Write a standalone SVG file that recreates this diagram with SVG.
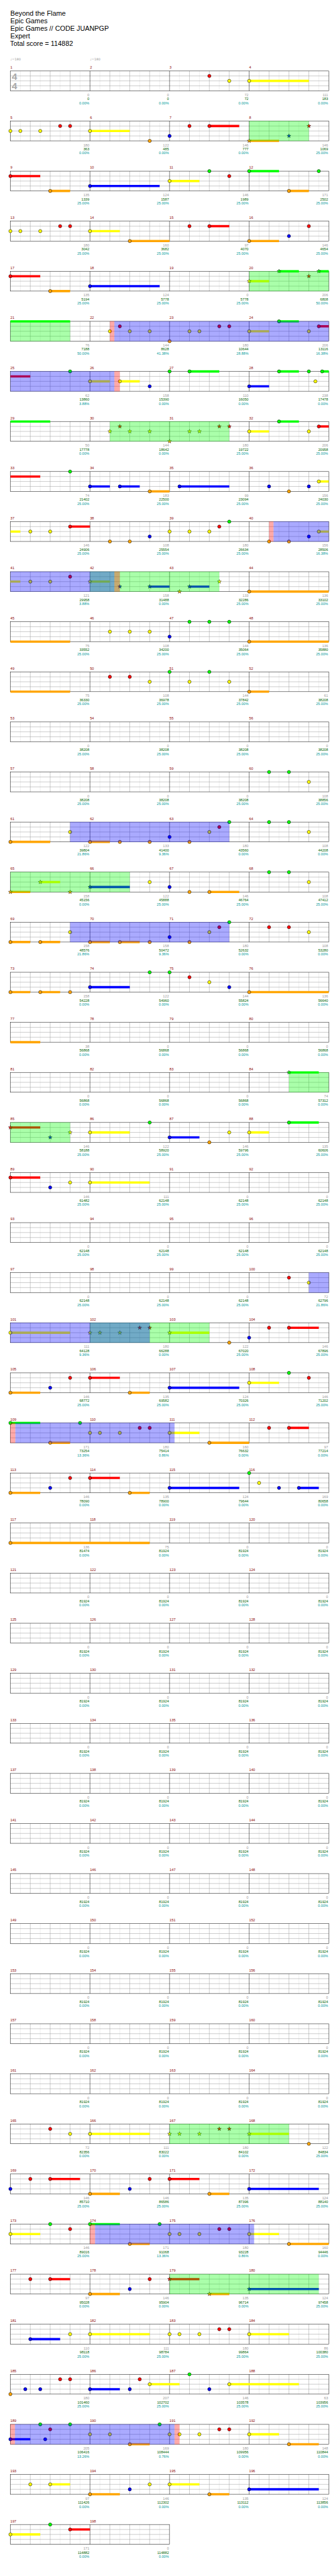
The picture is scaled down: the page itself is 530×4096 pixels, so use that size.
<svg xmlns="http://www.w3.org/2000/svg" width="530" height="4096" viewBox="0 0 530 4096">
<style>
text{font-family:"Liberation Sans",Arial,sans-serif;font-size:11px}
.t{font-size:21px;fill:#000}
.tp{font-family:"DejaVu Sans",sans-serif;font-size:10px;fill:#999}
.ts{font-size:30px;font-weight:bold;fill:#aaa}
.m{fill:#8b0000}
.a{fill:#999;text-anchor:end}
.b{fill:#006400;text-anchor:end}
.c{fill:#009a9a;text-anchor:end}
.lt,.gr,.bk{fill:none;stroke-width:1}
.lt{stroke:#e0e0e0}
.gr{stroke:#999}
.bk{stroke:#000}
.sG,.sR,.sY,.sB,.sO{fill:none;stroke-width:7}
.sG{stroke:#0f0}.sR{stroke:#f00}.sY{stroke:#ff0}.sB{stroke:#00f}.sO{stroke:#ffa500}
.vg{fill:#0f0;fill-opacity:.333}
.vb{fill:#00f;fill-opacity:.333}
.vp{fill:#f00;fill-opacity:.333}
</style>
<defs>
<g id="H">
<path class="lt" d="M30.6 0V61M91.9 0V61M153.1 0V61M214.4 0V61M275.6 0V61M336.9 0V61M398.1 0V61M459.4 0V61"/>
<path class="gr" d="M61.25 0V61M122.5 0V61M183.75 0V61M306.25 0V61M367.5 0V61M428.75 0V61M0 15.25H490M0 30.5H490M0 45.75H490"/>
<path class="bk" d="M245 0V61"/>
</g>
<g id="S4"><use href="#H"/><use href="#H" x="490"/><path class="bk" d="M490 0V61"/><rect class="bk" width="980" height="61"/></g>
<g id="S2"><use href="#H"/><rect class="bk" width="490" height="61"/></g>
<circle id="G" r="5" fill="#0f0" stroke="#000"/>
<circle id="R" cy="15.25" r="5" fill="#f00" stroke="#000"/>
<circle id="Y" cy="30.5" r="5" fill="#ff0" stroke="#000"/>
<circle id="B" cy="45.75" r="5" fill="#00f" stroke="#000"/>
<circle id="O" cy="61" r="5" fill="#ffa500" stroke="#000"/>
<path id="st" d="M0-6.5L1.53-2.1 6.18-2.01 2.47.8 3.82 5.26 0 2.6-3.82 5.26-2.47.8-6.18-2.01-1.53-2.1Z" stroke="#000" stroke-width=".8"/>
<g id="xG" fill="#0f0"><use href="#st"/></g>
<g id="xR" fill="#f00"><use href="#st" y="15.25"/></g>
<g id="xY" fill="#ff0"><use href="#st" y="30.5"/></g>
<g id="xB" fill="#00f"><use href="#st" y="45.75"/></g>
<g id="xO" fill="#ffa500"><use href="#st" y="61"/></g>
<text id="a0" class="a" y="77.5"><tspan x="243">0</tspan><tspan x="488">0</tspan><tspan x="733">0</tspan><tspan x="978">0</tspan></text>
<text id="c0" class="c" y="102.5"><tspan x="243">0.00%</tspan><tspan x="488">0.00%</tspan><tspan x="733">0.00%</tspan><tspan x="978">0.00%</tspan></text>
<text id="c25" class="c" y="102.5"><tspan x="243">25.00%</tspan><tspan x="488">25.00%</tspan><tspan x="733">25.00%</tspan><tspan x="978">25.00%</tspan></text>
<g id="E"><use href="#S4"/><use href="#a0"/><text class="b" y="90"><tspan x="243">81924</tspan><tspan x="488">81924</tspan><tspan x="733">81924</tspan><tspan x="978">81924</tspan></text><use href="#c0"/></g>
</defs>
<rect width="530" height="4096" fill="#fff"/>
<g transform="scale(0.517)">
<g id="title">
<text class="t" x="32" y="49">Beyond the Flame</text>
<text class="t" x="32" y="72">Epic Games</text>
<text class="t" x="32" y="95">Epic Games // CODE JUANPGP</text>
<text class="t" x="32" y="118">Expert</text>
<text class="t" x="31" y="141">Total score = 114882</text>
<text class="tp" x="32" y="186">♩=180</text>
<text class="tp" x="277" y="186">♩=180</text>
</g>

<g id="row-0" transform="translate(32 218.3)">
<use href="#S4"/>
<text class="ts" x="4.5" y="27">4</text><text class="ts" x="4.5" y="57">4</text>
<path class="sY" d="M735 30.5H918.8"/>
<use href="#R" x="612.5"/><use href="#Y" x="673.8"/><use href="#Y" x="735"/>
<text class="m" y="-7"><tspan x="0">1</tspan><tspan x="245">2</tspan><tspan x="490">3</tspan><tspan x="735">4</tspan></text>
<text class="a" y="77.5"><tspan x="243">0</tspan><tspan x="488">0</tspan><tspan x="733">72</tspan><tspan x="978">111</tspan></text>
<text class="b" y="90"><tspan x="243">0</tspan><tspan x="488">0</tspan><tspan x="733">72</tspan><tspan x="978">183</tspan></text>
<use href="#c0"/>
</g>

<g id="row-1" transform="translate(32 372.3)">
<use href="#S4"/>
<path class="sY" d="M245 30.5H367.5"/><path class="sR" d="M612.5 15.25H704.4"/><path class="sO" d="M735 61H826.9"/>
<use href="#Y" x="0"/><use href="#Y" x="30.6"/><use href="#Y" x="91.9"/><use href="#R" x="153.1"/><use href="#R" x="183.8"/><use href="#Y" x="245"/><use href="#O" x="428.8"/><use href="#B" x="490"/><use href="#R" x="551.3"/><use href="#R" x="612.5"/>
<use href="#xO" x="735"/><use href="#xB" x="857.5"/><use href="#xR" x="918.8"/>
<rect class="vg" x="735" y="-.5" width="183.8" height="62"/>
<text class="m" y="-7"><tspan x="0">5</tspan><tspan x="245">6</tspan><tspan x="490">7</tspan><tspan x="735">8</tspan></text>
<text class="a" y="77.5"><tspan x="243">180</tspan><tspan x="488">122</tspan><tspan x="733">146</tspan><tspan x="978">146</tspan></text>
<text class="b" y="90"><tspan x="243">363</tspan><tspan x="488">485</tspan><tspan x="733">777</tspan><tspan x="978">1069</tspan></text>
<text class="c" y="102.5"><tspan x="243">0.00%</tspan><tspan x="488">0.00%</tspan><tspan x="733">0.00%</tspan><tspan x="978">25.00%</tspan></text>
</g>

<g id="row-2" transform="translate(32 526.3)">
<use href="#S4"/>
<path class="sR" d="M0 15.25H91.9"/><path class="sO" d="M122.5 61H183.8M857.5 61H918.8"/><path class="sB" d="M245 45.75H459.4"/><path class="sY" d="M490 30.5H581.9"/><path class="sG" d="M735 0H826.9"/>
<use href="#R" x="0"/><use href="#O" x="122.5"/><use href="#B" x="245"/><use href="#Y" x="490"/><use href="#G" x="612.5"/><use href="#R" x="673.8"/><use href="#G" x="735"/><use href="#O" x="857.5"/><use href="#G" x="949.4"/>
<text class="m" y="-7"><tspan x="0">9</tspan><tspan x="245">10</tspan><tspan x="490">11</tspan><tspan x="735">12</tspan></text>
<text class="a" y="77.5"><tspan x="243">135</tspan><tspan x="488">124</tspan><tspan x="733">146</tspan><tspan x="978">171</tspan></text>
<text class="b" y="90"><tspan x="243">1339</tspan><tspan x="488">1587</tspan><tspan x="733">1989</tspan><tspan x="978">2502</tspan></text>
<use href="#c25"/>
</g>

<g id="row-3" transform="translate(32 680.3)">
<use href="#S4"/>
<path class="sY" d="M245 30.5H336.9"/><path class="sO" d="M367.5 61H490M735 61H826.9"/><path class="sR" d="M612.5 15.25H673.8"/>
<use href="#Y" x="0"/><use href="#Y" x="30.6"/><use href="#Y" x="91.9"/><use href="#R" x="153.1"/><use href="#R" x="183.8"/><use href="#Y" x="245"/><use href="#O" x="367.5"/><use href="#R" x="551.3"/><use href="#R" x="612.5"/><use href="#O" x="735"/><use href="#B" x="857.5"/><use href="#R" x="918.8"/>
<text class="m" y="-7"><tspan x="0">13</tspan><tspan x="245">14</tspan><tspan x="490">15</tspan><tspan x="735">16</tspan></text>
<text class="a" y="77.5"><tspan x="243">180</tspan><tspan x="488">160</tspan><tspan x="733">97</tspan><tspan x="978">146</tspan></text>
<text class="b" y="90"><tspan x="243">3042</tspan><tspan x="488">3682</tspan><tspan x="733">4070</tspan><tspan x="978">4654</tspan></text>
<use href="#c25"/>
</g>

<g id="row-4" transform="translate(32 834.3)">
<use href="#S4"/>
<path class="sR" d="M0 15.25H91.9"/><path class="sO" d="M122.5 61H183.8"/><path class="sB" d="M245 45.75H459.4"/><path class="sY" d="M735 30.5H796.3"/><path class="sG" d="M826.9 0H888.1M949.4 0H980"/>
<use href="#R" x="0"/><use href="#O" x="122.5"/><use href="#B" x="245"/>
<use href="#xY" x="735"/><use href="#xG" x="826.9"/><use href="#xR" x="918.8"/><use href="#xG" x="949.4"/>
<rect class="vg" x="735" y="-.5" width="245" height="62"/>
<text class="m" y="-7"><tspan x="0">17</tspan><tspan x="245">18</tspan><tspan x="490">19</tspan><tspan x="735">20</tspan></text>
<text class="a" y="77.5"><tspan x="243">135</tspan><tspan x="488">124</tspan><tspan x="733">0</tspan><tspan x="978">206</tspan></text>
<text class="b" y="90"><tspan x="243">5194</tspan><tspan x="488">5778</tspan><tspan x="733">5778</tspan><tspan x="978">6808</tspan></text>
<text class="c" y="102.5"><tspan x="243">25.00%</tspan><tspan x="488">25.00%</tspan><tspan x="733">25.00%</tspan><tspan x="978">50.00%</tspan></text>
</g>

<g id="row-5" transform="translate(32 988.3)">
<use href="#S4"/>
<path class="sG" d="M0 0H183.8M826.9 0H888.1"/><path class="sY" d="M735 30.5H796.3"/><path class="sR" d="M949.4 15.25H980"/>
<use href="#Y" x="306.3"/><use href="#R" x="336.9"/><use href="#Y" x="367.5"/><use href="#Y" x="428.8"/><use href="#O" x="490"/><use href="#Y" x="551.3"/><use href="#Y" x="581.9"/><use href="#R" x="643.1"/><use href="#R" x="673.8"/><use href="#Y" x="735"/><use href="#G" x="826.9"/><use href="#Y" x="918.8"/><use href="#R" x="949.4"/>
<rect class="vg" x="0" y="-.5" width="183.8" height="62"/><rect class="vp" x="306.3" y="-.5" width="13.7" height="62"/><rect class="vb" x="320" y="-.5" width="660" height="62"/>
<text class="m" y="-7"><tspan x="0">21</tspan><tspan x="245">22</tspan><tspan x="490">23</tspan><tspan x="735">24</tspan></text>
<text class="a" y="77.5"><tspan x="243">76</tspan><tspan x="488">144</tspan><tspan x="733">180</tspan><tspan x="978">206</tspan></text>
<text class="b" y="90"><tspan x="243">7188</tspan><tspan x="488">8628</tspan><tspan x="733">10644</tspan><tspan x="978">13116</tspan></text>
<text class="c" y="102.5"><tspan x="243">50.00%</tspan><tspan x="488">41.38%</tspan><tspan x="733">28.88%</tspan><tspan x="978">16.38%</tspan></text>
</g>

<g id="row-6" transform="translate(32 1142.3)">
<use href="#S4"/>
<path class="sR" d="M0 15.25H61.3"/><path class="sY" d="M245 30.5H306.3M336.9 30.5H398.1"/><path class="sG" d="M551.3 0H643.1M826.9 0H888.1M959.7 0H980"/><path class="sB" d="M735 45.75H796.3"/>
<use href="#G" x="183.8"/><use href="#Y" x="245"/><use href="#Y" x="336.9"/><use href="#B" x="428.8"/><use href="#G" x="490"/><use href="#G" x="551.3"/><use href="#B" x="735"/><use href="#G" x="826.9"/><use href="#G" x="918.8"/><use href="#Y" x="939"/><use href="#G" x="959.7"/>
<rect class="vb" x="0" y="-.5" width="320" height="62"/><rect class="vp" x="320" y="-.5" width="16.9" height="62"/>
<text class="m" y="-7"><tspan x="0">25</tspan><tspan x="245">26</tspan><tspan x="490">27</tspan><tspan x="735">28</tspan></text>
<text class="a" y="77.5"><tspan x="243">62</tspan><tspan x="488">158</tspan><tspan x="733">110</tspan><tspan x="978">238</tspan></text>
<text class="b" y="90"><tspan x="243">13860</tspan><tspan x="488">15390</tspan><tspan x="733">16050</tspan><tspan x="978">17478</tspan></text>
<text class="c" y="102.5"><tspan x="243">3.88%</tspan><tspan x="488">0.00%</tspan><tspan x="733">0.00%</tspan><tspan x="978">0.00%</tspan></text>
</g>

<g id="row-7" transform="translate(32 1296.3)">
<use href="#S4"/>
<path class="sG" d="M0 0H122.5M826.9 0H888.1"/><path class="sY" d="M735 30.5H796.3"/><path class="sR" d="M949.4 15.25H980"/>
<use href="#xY" x="306.3"/><use href="#xR" x="336.9"/><use href="#xY" x="367.5"/><use href="#xY" x="428.8"/><use href="#xO" x="490"/><use href="#xY" x="551.3"/><use href="#xY" x="581.9"/><use href="#xR" x="643.1"/><use href="#xR" x="673.8"/>
<use href="#Y" x="735"/><use href="#G" x="826.9"/><use href="#Y" x="918.8"/><use href="#R" x="949.4"/>
<rect class="vg" x="306.3" y="-.5" width="367.5" height="62"/>
<text class="m" y="-7"><tspan x="0">29</tspan><tspan x="245">30</tspan><tspan x="490">31</tspan><tspan x="735">32</tspan></text>
<text class="a" y="77.5"><tspan x="243">50</tspan><tspan x="488">144</tspan><tspan x="733">180</tspan><tspan x="978">206</tspan></text>
<text class="b" y="90"><tspan x="243">17778</tspan><tspan x="488">18642</tspan><tspan x="733">19722</tspan><tspan x="978">20958</tspan></text>
<text class="c" y="102.5"><tspan x="243">0.00%</tspan><tspan x="488">0.00%</tspan><tspan x="733">25.00%</tspan><tspan x="978">25.00%</tspan></text>
</g>

<g id="row-8" transform="translate(32 1450.3)">
<use href="#S4"/>
<path class="sR" d="M0 15.25H91.9"/><path class="sB" d="M245 45.75H306.3M336.9 45.75H398.1M520.6 45.75H673.8"/><path class="sO" d="M428.8 61H490"/><path class="sY" d="M949.4 30.5H980"/>
<use href="#G" x="183.8"/><use href="#B" x="245"/><use href="#B" x="336.9"/><use href="#O" x="428.8"/><use href="#B" x="520.6"/><use href="#B" x="796.3"/><use href="#O" x="857.5"/><use href="#B" x="918.8"/><use href="#Y" x="949.4"/>
<text class="m" y="-7"><tspan x="0">33</tspan><tspan x="245">34</tspan><tspan x="490">35</tspan><tspan x="735">36</tspan></text>
<text class="a" y="77.5"><tspan x="243">74</tspan><tspan x="488">183</tspan><tspan x="733">99</tspan><tspan x="978">156</tspan></text>
<text class="b" y="90"><tspan x="243">21402</tspan><tspan x="488">22500</tspan><tspan x="733">23094</tspan><tspan x="978">24030</tspan></text>
<use href="#c25"/>
</g>

<g id="row-9" transform="translate(32 1604.3)">
<use href="#S4"/>
<path class="sY" d="M0 30.5H30.6M949.4 30.5H980"/><path class="sR" d="M183.8 15.25H245"/>
<use href="#Y" x="61.3"/><use href="#Y" x="122.5"/><use href="#R" x="183.8"/><use href="#O" x="306.3"/><use href="#O" x="367.5"/><use href="#B" x="428.8"/><use href="#Y" x="490"/><use href="#Y" x="551.3"/><use href="#Y" x="612.5"/><use href="#R" x="643.1"/><use href="#G" x="673.8"/><use href="#O" x="796.3"/><use href="#O" x="857.5"/><use href="#B" x="918.8"/><use href="#Y" x="949.4"/>
<rect class="vp" x="796.3" y="-.5" width="13.7" height="62"/><rect class="vb" x="810" y="-.5" width="170" height="62"/>
<text class="m" y="-7"><tspan x="0">37</tspan><tspan x="245">38</tspan><tspan x="490">39</tspan><tspan x="735">40</tspan></text>
<text class="a" y="77.5"><tspan x="243">146</tspan><tspan x="488">108</tspan><tspan x="733">180</tspan><tspan x="978">156</tspan></text>
<text class="b" y="90"><tspan x="243">24906</tspan><tspan x="488">25554</tspan><tspan x="733">26634</tspan><tspan x="978">28506</tspan></text>
<text class="c" y="102.5"><tspan x="243">25.00%</tspan><tspan x="488">25.00%</tspan><tspan x="733">25.00%</tspan><tspan x="978">16.38%</tspan></text>
</g>

<g id="row-10" transform="translate(32 1758.3)">
<use href="#S4"/>
<path class="sY" d="M0 30.5H30.6M245 30.5H306.3"/><path class="sB" d="M428.8 45.75H490M551.3 45.75H612.5"/><path class="sO" d="M735 61H980"/>
<use href="#Y" x="61.3"/><use href="#Y" x="122.5"/><use href="#R" x="183.8"/><use href="#O" x="735"/>
<use href="#xY" x="245"/><use href="#xB" x="336.9"/><use href="#xB" x="428.8"/><use href="#xO" x="520.6"/><use href="#xB" x="551.3"/><use href="#xY" x="643.1"/>
<rect class="vg" x="245" y="-.5" width="398.1" height="62"/><rect class="vb" x="0" y="-.5" width="320" height="62"/><rect class="vp" x="320" y="-.5" width="16.9" height="62"/>
<text class="m" y="-7"><tspan x="0">41</tspan><tspan x="245">42</tspan><tspan x="490">43</tspan><tspan x="735">44</tspan></text>
<text class="a" y="77.5"><tspan x="243">121</tspan><tspan x="488">158</tspan><tspan x="733">133</tspan><tspan x="978">136</tspan></text>
<text class="b" y="90"><tspan x="243">29958</tspan><tspan x="488">31488</tspan><tspan x="733">32286</tspan><tspan x="978">33102</tspan></text>
<text class="c" y="102.5"><tspan x="243">3.88%</tspan><tspan x="488">0.00%</tspan><tspan x="733">25.00%</tspan><tspan x="978">25.00%</tspan></text>
</g>

<g id="row-11" transform="translate(32 1912.3)">
<use href="#S4"/>
<path class="sO" d="M0 61H183.8M735 61H980"/>
<use href="#Y" x="306.3"/><use href="#Y" x="367.5"/><use href="#Y" x="428.8"/><use href="#B" x="490"/><use href="#G" x="551.3"/><use href="#G" x="612.5"/><use href="#G" x="673.8"/><use href="#O" x="735"/>
<text class="m" y="-7"><tspan x="0">45</tspan><tspan x="245">46</tspan><tspan x="490">47</tspan><tspan x="735">48</tspan></text>
<text class="a" y="77.5"><tspan x="243">75</tspan><tspan x="488">108</tspan><tspan x="733">144</tspan><tspan x="978">136</tspan></text>
<text class="b" y="90"><tspan x="243">33552</tspan><tspan x="488">34200</tspan><tspan x="733">35064</tspan><tspan x="978">35880</tspan></text>
<use href="#c25"/>
</g>

<g id="row-12" transform="translate(32 2066.3)">
<use href="#S4"/>
<path class="sO" d="M0 61H183.8M735 61H796.3"/>
<use href="#R" x="306.3"/><use href="#R" x="367.5"/><use href="#Y" x="428.8"/><use href="#G" x="490"/><use href="#Y" x="551.3"/><use href="#G" x="612.5"/><use href="#Y" x="673.8"/><use href="#O" x="735"/>
<text class="m" y="-7"><tspan x="0">49</tspan><tspan x="245">50</tspan><tspan x="490">51</tspan><tspan x="735">52</tspan></text>
<text class="a" y="77.5"><tspan x="243">75</tspan><tspan x="488">108</tspan><tspan x="733">144</tspan><tspan x="978">61</tspan></text>
<text class="b" y="90"><tspan x="243">36330</tspan><tspan x="488">36978</tspan><tspan x="733">37842</tspan><tspan x="978">38208</tspan></text>
<use href="#c25"/>
</g>

<g id="row-13" transform="translate(32 2220.3)">
<use href="#S4"/>
<text class="m" y="-7"><tspan x="0">53</tspan><tspan x="245">54</tspan><tspan x="490">55</tspan><tspan x="735">56</tspan></text>
<use href="#a0"/>
<text class="b" y="90"><tspan x="243">38208</tspan><tspan x="488">38208</tspan><tspan x="733">38208</tspan><tspan x="978">38208</tspan></text>
<use href="#c25"/>
</g>

<g id="row-14" transform="translate(32 2374.3)">
<use href="#S4"/>
<use href="#G" x="796.3"/><use href="#G" x="857.5"/><use href="#Y" x="918.8"/>
<text class="m" y="-7"><tspan x="0">57</tspan><tspan x="245">58</tspan><tspan x="490">59</tspan><tspan x="735">60</tspan></text>
<text class="a" y="77.5"><tspan x="243">0</tspan><tspan x="488">0</tspan><tspan x="733">0</tspan><tspan x="978">108</tspan></text>
<text class="b" y="90"><tspan x="243">38208</tspan><tspan x="488">38208</tspan><tspan x="733">38208</tspan><tspan x="978">38856</tspan></text>
<use href="#c25"/>
</g>

<g id="row-15" transform="translate(32 2528.3)">
<use href="#S4"/>
<path class="sO" d="M0 61H122.5M245 61H306.3"/>
<use href="#O" x="0"/><use href="#Y" x="183.8"/><use href="#O" x="245"/><use href="#O" x="336.9"/><use href="#O" x="428.8"/><use href="#B" x="490"/><use href="#O" x="551.3"/><use href="#Y" x="612.5"/><use href="#R" x="643.1"/><use href="#G" x="673.8"/><use href="#G" x="796.3"/><use href="#G" x="857.5"/><use href="#Y" x="918.8"/>
<rect class="vb" x="183.8" y="-.5" width="490" height="62"/>
<text class="m" y="-7"><tspan x="0">61</tspan><tspan x="245">62</tspan><tspan x="490">63</tspan><tspan x="735">64</tspan></text>
<text class="a" y="77.5"><tspan x="243">122</tspan><tspan x="488">133</tspan><tspan x="733">180</tspan><tspan x="978">108</tspan></text>
<text class="b" y="90"><tspan x="243">39804</tspan><tspan x="488">41400</tspan><tspan x="733">43560</tspan><tspan x="978">44208</tspan></text>
<text class="c" y="102.5"><tspan x="243">21.86%</tspan><tspan x="488">9.36%</tspan><tspan x="733">0.00%</tspan><tspan x="978">0.00%</tspan></text>
</g>

<g id="row-16" transform="translate(32 2682.3)">
<use href="#S4"/>
<path class="sO" d="M0 61H61.3M612.5 61H704.4"/><path class="sY" d="M91.9 30.5H153.1"/><path class="sB" d="M245 45.75H367.5"/>
<use href="#xO" x="0"/><use href="#xY" x="91.9"/><use href="#xO" x="183.8"/><use href="#xB" x="245"/>
<use href="#Y" x="428.8"/><use href="#B" x="490"/><use href="#O" x="551.3"/><use href="#O" x="612.5"/><use href="#G" x="796.3"/><use href="#G" x="857.5"/><use href="#Y" x="918.8"/>
<rect class="vg" x="0" y="-.5" width="367.5" height="62"/>
<text class="m" y="-7"><tspan x="0">65</tspan><tspan x="245">66</tspan><tspan x="490">67</tspan><tspan x="735">68</tspan></text>
<text class="a" y="77.5"><tspan x="243">158</tspan><tspan x="488">122</tspan><tspan x="733">146</tspan><tspan x="978">108</tspan></text>
<text class="b" y="90"><tspan x="243">45156</tspan><tspan x="488">45888</tspan><tspan x="733">46764</tspan><tspan x="978">47412</tspan></text>
<text class="c" y="102.5"><tspan x="243">0.00%</tspan><tspan x="488">25.00%</tspan><tspan x="733">25.00%</tspan><tspan x="978">25.00%</tspan></text>
</g>

<g id="row-17" transform="translate(32 2836.3)">
<use href="#S4"/>
<path class="sO" d="M0 61H61.3M91.9 61H153.1M245 61H306.3M336.9 61H398.1"/>
<use href="#O" x="0"/><use href="#O" x="91.9"/><use href="#Y" x="183.8"/><use href="#O" x="245"/><use href="#O" x="336.9"/><use href="#O" x="428.8"/><use href="#B" x="490"/><use href="#O" x="551.3"/><use href="#Y" x="612.5"/><use href="#R" x="643.1"/><use href="#G" x="673.8"/><use href="#R" x="796.3"/><use href="#R" x="857.5"/><use href="#Y" x="918.8"/>
<rect class="vb" x="183.8" y="-.5" width="490" height="62"/>
<text class="m" y="-7"><tspan x="0">69</tspan><tspan x="245">70</tspan><tspan x="490">71</tspan><tspan x="735">72</tspan></text>
<text class="a" y="77.5"><tspan x="243">158</tspan><tspan x="488">158</tspan><tspan x="733">180</tspan><tspan x="978">108</tspan></text>
<text class="b" y="90"><tspan x="243">48576</tspan><tspan x="488">50472</tspan><tspan x="733">52632</tspan><tspan x="978">53280</tspan></text>
<text class="c" y="102.5"><tspan x="243">21.86%</tspan><tspan x="488">9.36%</tspan><tspan x="733">0.00%</tspan><tspan x="978">0.00%</tspan></text>
</g>

<g id="row-18" transform="translate(32 2990.3)">
<use href="#S4"/>
<path class="sO" d="M0 61H61.3M91.9 61H153.1M735 61H980"/><path class="sB" d="M245 45.75H367.5"/>
<use href="#O" x="0"/><use href="#O" x="91.9"/><use href="#O" x="183.8"/><use href="#B" x="245"/><use href="#G" x="428.8"/><use href="#G" x="490"/><use href="#R" x="551.3"/><use href="#Y" x="612.5"/><use href="#B" x="673.8"/><use href="#O" x="735"/>
<text class="m" y="-7"><tspan x="0">73</tspan><tspan x="245">74</tspan><tspan x="490">75</tspan><tspan x="735">76</tspan></text>
<text class="a" y="77.5"><tspan x="243">158</tspan><tspan x="488">122</tspan><tspan x="733">144</tspan><tspan x="978">136</tspan></text>
<text class="b" y="90"><tspan x="243">54228</tspan><tspan x="488">54960</tspan><tspan x="733">55824</tspan><tspan x="978">56640</tspan></text>
<use href="#c0"/>
</g>

<g id="row-19" transform="translate(32 3144.3)">
<use href="#S4"/>
<path class="sO" d="M0 61H91.9"/>
<text class="m" y="-7"><tspan x="0">77</tspan><tspan x="245">78</tspan><tspan x="490">79</tspan><tspan x="735">80</tspan></text>
<text class="a" y="77.5"><tspan x="243">38</tspan><tspan x="488">0</tspan><tspan x="733">0</tspan><tspan x="978">0</tspan></text>
<text class="b" y="90"><tspan x="243">56868</tspan><tspan x="488">56868</tspan><tspan x="733">56868</tspan><tspan x="978">56868</tspan></text>
<use href="#c0"/>
</g>

<g id="row-20" transform="translate(32 3298.3)">
<use href="#S4"/>
<path class="sG" d="M857.5 0H949.4"/>
<use href="#xG" x="857.5"/>
<rect class="vg" x="857.5" y="-.5" width="122.5" height="62"/>
<text class="m" y="-7"><tspan x="0">81</tspan><tspan x="245">82</tspan><tspan x="490">83</tspan><tspan x="735">84</tspan></text>
<text class="a" y="77.5"><tspan x="243">0</tspan><tspan x="488">0</tspan><tspan x="733">0</tspan><tspan x="978">74</tspan></text>
<text class="b" y="90"><tspan x="243">56868</tspan><tspan x="488">56868</tspan><tspan x="733">56868</tspan><tspan x="978">57312</tspan></text>
<use href="#c0"/>
</g>

<g id="row-21" transform="translate(32 3452.3)">
<use href="#S4"/>
<path class="sR" d="M0 15.25H91.9"/><path class="sY" d="M245 30.5H367.5M735 30.5H796.3"/><path class="sB" d="M490 45.75H581.9"/><path class="sG" d="M857.5 0H949.4"/>
<use href="#xR" x="0"/><use href="#xB" x="122.5"/><use href="#xY" x="183.8"/>
<use href="#Y" x="245"/><use href="#G" x="428.8"/><use href="#B" x="490"/><use href="#O" x="612.5"/><use href="#Y" x="673.8"/><use href="#Y" x="735"/><use href="#G" x="857.5"/>
<rect class="vg" x="0" y="-.5" width="183.8" height="62"/>
<text class="m" y="-7"><tspan x="0">85</tspan><tspan x="245">86</tspan><tspan x="490">87</tspan><tspan x="735">88</tspan></text>
<text class="a" y="77.5"><tspan x="243">146</tspan><tspan x="488">122</tspan><tspan x="733">146</tspan><tspan x="978">135</tspan></text>
<text class="b" y="90"><tspan x="243">58188</tspan><tspan x="488">58920</tspan><tspan x="733">59796</tspan><tspan x="978">60606</tspan></text>
<use href="#c25"/>
</g>

<g id="row-22" transform="translate(32 3606.3)">
<use href="#S4"/>
<path class="sR" d="M0 15.25H91.9"/><path class="sY" d="M245 30.5H428.8"/>
<use href="#R" x="0"/><use href="#B" x="122.5"/><use href="#Y" x="183.8"/><use href="#Y" x="245"/>
<text class="m" y="-7"><tspan x="0">89</tspan><tspan x="245">90</tspan><tspan x="490">91</tspan><tspan x="735">92</tspan></text>
<text class="a" y="77.5"><tspan x="243">146</tspan><tspan x="488">111</tspan><tspan x="733">0</tspan><tspan x="978">0</tspan></text>
<text class="b" y="90"><tspan x="243">61482</tspan><tspan x="488">62148</tspan><tspan x="733">62148</tspan><tspan x="978">62148</tspan></text>
<use href="#c25"/>
</g>

<g id="row-23" transform="translate(32 3760.3)">
<use href="#S4"/>
<text class="m" y="-7"><tspan x="0">93</tspan><tspan x="245">94</tspan><tspan x="490">95</tspan><tspan x="735">96</tspan></text>
<use href="#a0"/>
<text class="b" y="90"><tspan x="243">62148</tspan><tspan x="488">62148</tspan><tspan x="733">62148</tspan><tspan x="978">62148</tspan></text>
<use href="#c25"/>
</g>

<g id="row-24" transform="translate(32 3914.3)">
<use href="#S4"/>
<use href="#R" x="857.5"/><use href="#Y" x="918.8"/>
<rect class="vb" x="918.8" y="-.5" width="61.2" height="62"/>
<text class="m" y="-7"><tspan x="0">97</tspan><tspan x="245">98</tspan><tspan x="490">99</tspan><tspan x="735">100</tspan></text>
<text class="a" y="77.5"><tspan x="243">0</tspan><tspan x="488">0</tspan><tspan x="733">0</tspan><tspan x="978">72</tspan></text>
<text class="b" y="90"><tspan x="243">62148</tspan><tspan x="488">62148</tspan><tspan x="733">62148</tspan><tspan x="978">62796</tspan></text>
<text class="c" y="102.5"><tspan x="243">25.00%</tspan><tspan x="488">25.00%</tspan><tspan x="733">25.00%</tspan><tspan x="978">21.86%</tspan></text>
</g>

<g id="row-25" transform="translate(32 4068.3)">
<use href="#S4"/>
<path class="sY" d="M0 30.5H183.8M490 30.5H612.5"/><path class="sR" d="M857.5 15.25H949.4"/>
<use href="#Y" x="0"/><use href="#O" x="673.8"/><use href="#B" x="735"/><use href="#R" x="796.3"/><use href="#R" x="857.5"/>
<use href="#xY" x="245"/><use href="#xY" x="275.6"/><use href="#xY" x="336.9"/><use href="#xR" x="398.1"/><use href="#xR" x="428.8"/><use href="#xY" x="490"/>
<rect class="vg" x="245" y="-.5" width="367.5" height="62"/><rect class="vb" x="0" y="-.5" width="428.8" height="62"/>
<text class="m" y="-7"><tspan x="0">101</tspan><tspan x="245">102</tspan><tspan x="490">103</tspan><tspan x="735">104</tspan></text>
<text class="a" y="77.5"><tspan x="243">111</tspan><tspan x="488">180</tspan><tspan x="733">122</tspan><tspan x="978">146</tspan></text>
<text class="b" y="90"><tspan x="243">64128</tspan><tspan x="488">66288</tspan><tspan x="733">67020</tspan><tspan x="978">67896</tspan></text>
<text class="c" y="102.5"><tspan x="243">9.36%</tspan><tspan x="488">0.00%</tspan><tspan x="733">25.00%</tspan><tspan x="978">25.00%</tspan></text>
</g>

<g id="row-26" transform="translate(32 4222.3)">
<use href="#S4"/>
<path class="sO" d="M0 61H91.9M367.5 61H428.8"/><path class="sR" d="M245 15.25H336.9"/><path class="sB" d="M490 45.75H704.4"/><path class="sY" d="M735 30.5H826.9"/>
<use href="#O" x="0"/><use href="#B" x="122.5"/><use href="#R" x="183.8"/><use href="#R" x="245"/><use href="#O" x="367.5"/><use href="#B" x="490"/><use href="#Y" x="735"/><use href="#G" x="857.5"/><use href="#R" x="918.8"/>
<text class="m" y="-7"><tspan x="0">105</tspan><tspan x="245">106</tspan><tspan x="490">107</tspan><tspan x="735">108</tspan></text>
<text class="a" y="77.5"><tspan x="243">146</tspan><tspan x="488">135</tspan><tspan x="733">124</tspan><tspan x="978">146</tspan></text>
<text class="b" y="90"><tspan x="243">68772</tspan><tspan x="488">69582</tspan><tspan x="733">70326</tspan><tspan x="978">71202</tspan></text>
<use href="#c25"/>
</g>

<g id="row-27" transform="translate(32 4376.3)">
<use href="#S4"/>
<path class="sG" d="M0 0H91.9"/><path class="sO" d="M122.5 61H183.8M612.5 61H735"/><path class="sY" d="M490 30.5H581.9"/><path class="sR" d="M857.5 15.25H918.8"/>
<use href="#G" x="0"/><use href="#O" x="122.5"/><use href="#G" x="214.4"/><use href="#Y" x="245"/><use href="#Y" x="275.6"/><use href="#Y" x="336.9"/><use href="#R" x="398.1"/><use href="#R" x="428.8"/><use href="#Y" x="490"/><use href="#O" x="612.5"/><use href="#R" x="796.3"/><use href="#R" x="857.5"/>
<rect class="vp" x="0" y="-.5" width="15.3" height="62"/><rect class="vb" x="15.3" y="-.5" width="490" height="62"/>
<text class="m" y="-7"><tspan x="0">109</tspan><tspan x="245">110</tspan><tspan x="490">111</tspan><tspan x="735">112</tspan></text>
<text class="a" y="77.5"><tspan x="243">171</tspan><tspan x="488">180</tspan><tspan x="733">160</tspan><tspan x="978">97</tspan></text>
<text class="b" y="90"><tspan x="243">73254</tspan><tspan x="488">75414</tspan><tspan x="733">76632</tspan><tspan x="978">77214</tspan></text>
<text class="c" y="102.5"><tspan x="243">13.36%</tspan><tspan x="488">0.86%</tspan><tspan x="733">0.00%</tspan><tspan x="978">0.00%</tspan></text>
</g>

<g id="row-28" transform="translate(32 4530.3)">
<use href="#S4"/>
<path class="sO" d="M0 61H91.9M367.5 61H428.8"/><path class="sR" d="M245 15.25H336.9"/><path class="sB" d="M490 45.75H704.4M888.1 45.75H949.4"/>
<use href="#O" x="0"/><use href="#B" x="122.5"/><use href="#R" x="183.8"/><use href="#R" x="245"/><use href="#O" x="367.5"/><use href="#B" x="490"/><use href="#G" x="735"/><use href="#Y" x="765.6"/><use href="#B" x="826.9"/><use href="#B" x="888.1"/>
<text class="m" y="-7"><tspan x="0">113</tspan><tspan x="245">114</tspan><tspan x="490">115</tspan><tspan x="735">116</tspan></text>
<text class="a" y="77.5"><tspan x="243">146</tspan><tspan x="488">135</tspan><tspan x="733">124</tspan><tspan x="978">169</tspan></text>
<text class="b" y="90"><tspan x="243">78090</tspan><tspan x="488">78900</tspan><tspan x="733">79644</tspan><tspan x="978">80658</tspan></text>
<use href="#c0"/>
</g>

<g id="row-29" transform="translate(32 4684.3)">
<use href="#S4"/>
<path class="sO" d="M0 61H428.8"/>
<use href="#O" x="0"/>
<text class="m" y="-7"><tspan x="0">117</tspan><tspan x="245">118</tspan><tspan x="490">119</tspan><tspan x="735">120</tspan></text>
<text class="a" y="77.5"><tspan x="243">136</tspan><tspan x="488">75</tspan><tspan x="733">0</tspan><tspan x="978">0</tspan></text>
<text class="b" y="90"><tspan x="243">81474</tspan><tspan x="488">81924</tspan><tspan x="733">81924</tspan><tspan x="978">81924</tspan></text>
<use href="#c0"/>
</g>

<g id="row-30" transform="translate(32 4838.3)"><use href="#E"/><text class="m" y="-7"><tspan x="0">121</tspan><tspan x="245">122</tspan><tspan x="490">123</tspan><tspan x="735">124</tspan></text></g>
<g id="row-31" transform="translate(32 4992.3)"><use href="#E"/><text class="m" y="-7"><tspan x="0">125</tspan><tspan x="245">126</tspan><tspan x="490">127</tspan><tspan x="735">128</tspan></text></g>
<g id="row-32" transform="translate(32 5146.3)"><use href="#E"/><text class="m" y="-7"><tspan x="0">129</tspan><tspan x="245">130</tspan><tspan x="490">131</tspan><tspan x="735">132</tspan></text></g>
<g id="row-33" transform="translate(32 5300.3)"><use href="#E"/><text class="m" y="-7"><tspan x="0">133</tspan><tspan x="245">134</tspan><tspan x="490">135</tspan><tspan x="735">136</tspan></text></g>
<g id="row-34" transform="translate(32 5454.3)"><use href="#E"/><text class="m" y="-7"><tspan x="0">137</tspan><tspan x="245">138</tspan><tspan x="490">139</tspan><tspan x="735">140</tspan></text></g>
<g id="row-35" transform="translate(32 5608.3)"><use href="#E"/><text class="m" y="-7"><tspan x="0">141</tspan><tspan x="245">142</tspan><tspan x="490">143</tspan><tspan x="735">144</tspan></text></g>
<g id="row-36" transform="translate(32 5762.3)"><use href="#E"/><text class="m" y="-7"><tspan x="0">145</tspan><tspan x="245">146</tspan><tspan x="490">147</tspan><tspan x="735">148</tspan></text></g>
<g id="row-37" transform="translate(32 5916.3)"><use href="#E"/><text class="m" y="-7"><tspan x="0">149</tspan><tspan x="245">150</tspan><tspan x="490">151</tspan><tspan x="735">152</tspan></text></g>
<g id="row-38" transform="translate(32 6070.3)"><use href="#E"/><text class="m" y="-7"><tspan x="0">153</tspan><tspan x="245">154</tspan><tspan x="490">155</tspan><tspan x="735">156</tspan></text></g>
<g id="row-39" transform="translate(32 6224.3)"><use href="#E"/><text class="m" y="-7"><tspan x="0">157</tspan><tspan x="245">158</tspan><tspan x="490">159</tspan><tspan x="735">160</tspan></text></g>
<g id="row-40" transform="translate(32 6378.3)"><use href="#E"/><text class="m" y="-7"><tspan x="0">161</tspan><tspan x="245">162</tspan><tspan x="490">163</tspan><tspan x="735">164</tspan></text></g>

<g id="row-41" transform="translate(32 6532.3)">
<use href="#S4"/>
<path class="sY" d="M245 30.5H428.8M735 30.5H857.5"/>
<use href="#R" x="122.5"/><use href="#Y" x="183.8"/><use href="#Y" x="245"/><use href="#O" x="918.8"/>
<use href="#xY" x="490"/><use href="#xY" x="520.6"/><use href="#xY" x="581.9"/><use href="#xR" x="643.1"/><use href="#xR" x="673.8"/><use href="#xY" x="735"/>
<rect class="vg" x="490" y="-.5" width="367.5" height="62"/>
<text class="m" y="-7"><tspan x="0">165</tspan><tspan x="245">166</tspan><tspan x="490">167</tspan><tspan x="735">168</tspan></text>
<text class="a" y="77.5"><tspan x="243">72</tspan><tspan x="488">111</tspan><tspan x="733">180</tspan><tspan x="978">122</tspan></text>
<text class="b" y="90"><tspan x="243">82356</tspan><tspan x="488">83022</tspan><tspan x="733">84102</tspan><tspan x="978">84834</tspan></text>
<text class="c" y="102.5"><tspan x="243">0.00%</tspan><tspan x="488">0.00%</tspan><tspan x="733">0.00%</tspan><tspan x="978">25.00%</tspan></text>
</g>

<g id="row-42" transform="translate(32 6686.3)">
<use href="#S4"/>
<path class="sR" d="M122.5 15.25H214.4M490 15.25H581.9"/><path class="sO" d="M245 61H336.9M612.5 61H673.8"/><path class="sB" d="M735 45.75H949.4"/>
<use href="#B" x="0"/><use href="#R" x="61.3"/><use href="#R" x="122.5"/><use href="#O" x="245"/><use href="#B" x="367.5"/><use href="#R" x="428.8"/><use href="#R" x="490"/><use href="#O" x="612.5"/><use href="#B" x="735"/>
<text class="m" y="-7"><tspan x="0">169</tspan><tspan x="245">170</tspan><tspan x="490">171</tspan><tspan x="735">172</tspan></text>
<text class="a" y="77.5"><tspan x="243">146</tspan><tspan x="488">146</tspan><tspan x="733">135</tspan><tspan x="978">124</tspan></text>
<text class="b" y="90"><tspan x="243">85710</tspan><tspan x="488">86586</tspan><tspan x="733">87396</tspan><tspan x="978">88140</tspan></text>
<use href="#c25"/>
</g>

<g id="row-43" transform="translate(32 6840.3)">
<use href="#S4"/>
<path class="sY" d="M0 30.5H91.9M735 30.5H826.9"/><path class="sG" d="M245 0H336.9"/><path class="sO" d="M367.5 61H428.8M857.5 61H980"/>
<use href="#Y" x="0"/><use href="#G" x="122.5"/><use href="#R" x="183.8"/><use href="#G" x="245"/><use href="#O" x="367.5"/><use href="#G" x="459.4"/><use href="#Y" x="490"/><use href="#Y" x="520.6"/><use href="#Y" x="581.9"/><use href="#R" x="643.1"/><use href="#R" x="673.8"/><use href="#Y" x="735"/><use href="#O" x="857.5"/>
<rect class="vp" x="245" y="-.5" width="15.7" height="62"/><rect class="vb" x="260.7" y="-.5" width="489.6" height="62"/>
<text class="m" y="-7"><tspan x="0">173</tspan><tspan x="245">174</tspan><tspan x="490">175</tspan><tspan x="735">176</tspan></text>
<text class="a" y="77.5"><tspan x="243">146</tspan><tspan x="488">171</tspan><tspan x="733">180</tspan><tspan x="978">160</tspan></text>
<text class="b" y="90"><tspan x="243">89016</tspan><tspan x="488">91068</tspan><tspan x="733">93228</tspan><tspan x="978">94446</tspan></text>
<text class="c" y="102.5"><tspan x="243">25.00%</tspan><tspan x="488">13.36%</tspan><tspan x="733">0.86%</tspan><tspan x="978">0.00%</tspan></text>
</g>

<g id="row-44" transform="translate(32 6994.3)">
<use href="#S4"/>
<path class="sR" d="M122.5 15.25H183.8M490 15.25H581.9"/><path class="sO" d="M245 61H336.9M612.5 61H673.8"/><path class="sB" d="M735 45.75H949.4"/>
<use href="#R" x="61.3"/><use href="#R" x="122.5"/><use href="#O" x="245"/><use href="#B" x="367.5"/><use href="#R" x="428.8"/>
<use href="#xR" x="490"/><use href="#xO" x="612.5"/><use href="#xB" x="735"/>
<rect class="vg" x="490" y="-.5" width="459.4" height="62"/>
<text class="m" y="-7"><tspan x="0">177</tspan><tspan x="245">178</tspan><tspan x="490">179</tspan><tspan x="735">180</tspan></text>
<text class="a" y="77.5"><tspan x="243">97</tspan><tspan x="488">146</tspan><tspan x="733">135</tspan><tspan x="978">124</tspan></text>
<text class="b" y="90"><tspan x="243">95028</tspan><tspan x="488">95904</tspan><tspan x="733">96714</tspan><tspan x="978">97458</tspan></text>
<text class="c" y="102.5"><tspan x="243">0.00%</tspan><tspan x="488">0.00%</tspan><tspan x="733">0.00%</tspan><tspan x="978">25.00%</tspan></text>
</g>

<g id="row-45" transform="translate(32 7148.3)">
<use href="#S4"/>
<path class="sB" d="M61.3 45.75H153.1"/><path class="sY" d="M245 30.5H428.8M735 30.5H857.5"/>
<use href="#B" x="61.3"/><use href="#Y" x="183.8"/><use href="#Y" x="245"/><use href="#Y" x="490"/><use href="#Y" x="520.6"/><use href="#Y" x="581.9"/><use href="#R" x="643.1"/><use href="#R" x="673.8"/><use href="#Y" x="735"/>
<text class="m" y="-7"><tspan x="0">181</tspan><tspan x="245">182</tspan><tspan x="490">183</tspan><tspan x="735">184</tspan></text>
<text class="a" y="77.5"><tspan x="243">110</tspan><tspan x="488">111</tspan><tspan x="733">180</tspan><tspan x="978">86</tspan></text>
<text class="b" y="90"><tspan x="243">98118</tspan><tspan x="488">98784</tspan><tspan x="733">99864</tspan><tspan x="978">100380</tspan></text>
<use href="#c25"/>
</g>

<g id="row-46" transform="translate(32 7302.3)">
<use href="#S4"/>
<path class="sB" d="M245 45.75H336.9"/><path class="sY" d="M428.8 30.5H520.6M673.8 30.5H888.1"/>
<use href="#O" x="0"/><use href="#B" x="45.9"/><use href="#B" x="91.9"/><use href="#R" x="153.1"/><use href="#R" x="183.8"/><use href="#B" x="245"/><use href="#B" x="367.5"/><use href="#R" x="398.1"/><use href="#Y" x="428.8"/><use href="#G" x="551.3"/><use href="#B" x="612.5"/><use href="#Y" x="673.8"/>
<text class="m" y="-7"><tspan x="0">185</tspan><tspan x="245">186</tspan><tspan x="490">187</tspan><tspan x="735">188</tspan></text>
<text class="a" y="77.5"><tspan x="243">180</tspan><tspan x="488">207</tspan><tspan x="733">146</tspan><tspan x="978">63</tspan></text>
<text class="b" y="90"><tspan x="243">101460</tspan><tspan x="488">102702</tspan><tspan x="733">103578</tspan><tspan x="978">103956</tspan></text>
<use href="#c25"/>
</g>

<g id="row-47" transform="translate(32 7456.3)">
<use href="#S4"/>
<path class="sB" d="M0 45.75H61.3"/><path class="sO" d="M367.5 61H428.8M857.5 61H949.4"/><path class="sY" d="M735 30.5H826.9"/>
<use href="#B" x="0"/><use href="#G" x="91.9"/><use href="#B" x="107.2"/><use href="#R" x="122.5"/><use href="#G" x="183.8"/><use href="#Y" x="245"/><use href="#Y" x="306.3"/><use href="#O" x="367.5"/><use href="#G" x="459.4"/><use href="#Y" x="490"/><use href="#Y" x="520.6"/><use href="#Y" x="581.9"/><use href="#R" x="643.1"/><use href="#R" x="673.8"/><use href="#Y" x="735"/><use href="#O" x="857.5"/>
<rect class="vp" x="0" y="-.5" width="14" height="62"/><rect class="vb" x="14" y="-.5" width="491.3" height="62"/><rect class="vp" x="505.3" y="-.5" width="15.3" height="62"/>
<text class="m" y="-7"><tspan x="0">189</tspan><tspan x="245">190</tspan><tspan x="490">191</tspan><tspan x="735">192</tspan></text>
<text class="a" y="77.5"><tspan x="243">205</tspan><tspan x="488">169</tspan><tspan x="733">180</tspan><tspan x="978">148</tspan></text>
<text class="b" y="90"><tspan x="243">106416</tspan><tspan x="488">108444</tspan><tspan x="733">109956</tspan><tspan x="978">110844</tspan></text>
<text class="c" y="102.5"><tspan x="243">13.26%</tspan><tspan x="488">0.76%</tspan><tspan x="733">0.00%</tspan><tspan x="978">0.00%</tspan></text>
</g>

<g id="row-48" transform="translate(32 7610.3)">
<use href="#S4"/>
<path class="sY" d="M122.5 30.5H183.8M490 30.5H581.9"/><path class="sO" d="M245 61H336.9M612.5 61H673.8"/><path class="sB" d="M735 45.75H949.4"/>
<use href="#Y" x="61.3"/><use href="#Y" x="122.5"/><use href="#O" x="245"/><use href="#B" x="367.5"/><use href="#Y" x="428.8"/><use href="#Y" x="490"/><use href="#O" x="612.5"/><use href="#B" x="735"/>
<text class="m" y="-7"><tspan x="0">193</tspan><tspan x="245">194</tspan><tspan x="490">195</tspan><tspan x="735">196</tspan></text>
<text class="a" y="77.5"><tspan x="243">97</tspan><tspan x="488">146</tspan><tspan x="733">135</tspan><tspan x="978">124</tspan></text>
<text class="b" y="90"><tspan x="243">111426</tspan><tspan x="488">112302</tspan><tspan x="733">113112</tspan><tspan x="978">113856</tspan></text>
<use href="#c0"/>
</g>

<g id="row-49" transform="translate(32 7764.3)">
<use href="#S2"/>
<path class="sY" d="M0 30.5H91.9"/><path class="sR" d="M183.8 15.25H245"/>
<use href="#Y" x="0"/><use href="#G" x="122.5"/><use href="#R" x="183.8"/>
<text class="m" y="-7"><tspan x="0">197</tspan><tspan x="245">198</tspan></text>
<text class="a" y="77.5"><tspan x="243">171</tspan><tspan x="488">0</tspan></text>
<text class="b" y="90"><tspan x="243">114882</tspan><tspan x="488">114882</tspan></text>
<text class="c" y="102.5"><tspan x="243">0.00%</tspan><tspan x="488">0.00%</tspan></text>
</g>
</g>
</svg>
